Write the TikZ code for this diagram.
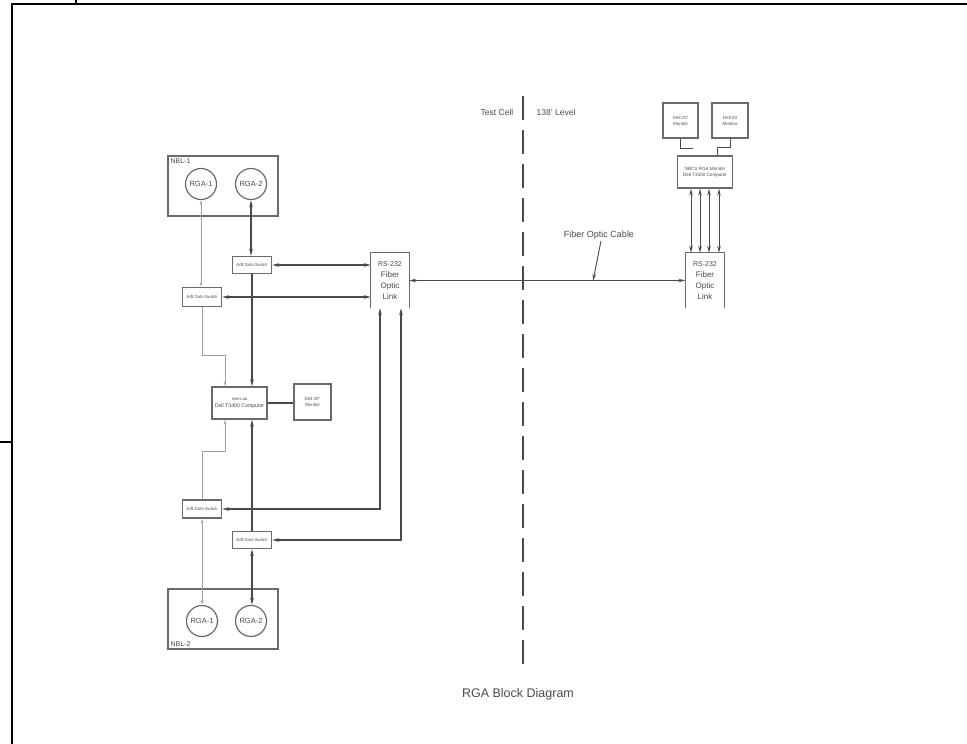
\documentclass[tikz,border=0pt]{standalone}
\usepackage{fontspec}
\setmainfont{Liberation Sans}
\usetikzlibrary{positioning,arrows.meta}
\definecolor{inkgray}{HTML}{4A4A4A}
\definecolor{boxgray}{HTML}{6A6A6A}
\definecolor{lightline}{HTML}{A0A0A0}
\begin{document}
\begin{tikzpicture}[x=1pt, y=-1pt, >={Stealth[length=7pt,width=3.5pt]},
  box/.style={draw=boxgray, line width=1.2pt, rectangle, inner sep=1pt, align=center, text=inkgray},
  openbox/.style={rectangle, inner sep=1pt, align=center, text=inkgray},
  rga/.style={draw=boxgray, line width=1.2pt, circle, minimum size=31pt, inner sep=0pt, text=inkgray, font=\fontsize{7.5}{8}\selectfont},
  swbox/.style={box, minimum width=39pt, minimum height=17pt, font=\fontsize{4.3}{5}\selectfont},
  dk/.style={draw=inkgray, line width=1.3pt},
  lt/.style={draw=lightline, line width=0.7pt, >={Stealth[length=5pt,width=2.5pt]}},
  lbl/.style={text=inkgray, inner sep=1.5pt}]
\useasboundingbox (0,0) rectangle (967,744);

% sheet frame
\draw[line width=1.5pt] (12,744) -- (12,4) -- (967,4);
\draw[line width=1.5pt] (76,0) -- (76,4);
\draw[line width=1.5pt] (0,442) -- (12,442);

% NBL-1
\node[box, minimum width=110pt, minimum height=60pt] (nbl1) at (223,186) {};
\node[lbl, inner sep=3pt, anchor=north west, font=\fontsize{7}{8}\selectfont] (nbl1lbl) at (nbl1.north west) {NBL-1};
\node[rga] (rga1) at (201,184) {RGA-1};
\node[rga] (rga2) at (251,184) {RGA-2};

% NBL-2
\node[box, minimum width=110pt, minimum height=60pt] (nbl2) at (223,619) {};
\node[lbl, inner sep=3pt, anchor=south west, font=\fontsize{7}{8}\selectfont] (nbl2lbl) at (nbl2.south west) {NBL-2};
\node[rga] (rga3) at (202,621) {RGA-1};
\node[rga] (rga4) at (251,621) {RGA-2};

% switches
\node[swbox] (swA) at (252,265) {A/B Data Switch};
\node[swbox, minimum height=19pt] (swB) at (202,297) {A/B Data Switch};
\node[swbox, minimum height=18pt] (swC) at (202,509) {A/B Data Switch};
\node[swbox] (swD) at (252,540) {A/B Data Switch};

% test cell computer and monitor
\node[box, minimum width=55pt, minimum height=32pt, font=\fontsize{5.2}{6.5}\selectfont] (pc) at (239.5,403) {{\fontsize{4}{5}\selectfont Intel Lab}\\Dell T3400 Computer};
\node[box, minimum width=37pt, minimum height=36pt, font=\fontsize{4.5}{6}\selectfont] (mon) at (312.5,402) {Dell 20"\\Monitor};

% fiber optic links (open at the bottom)
\node[openbox, minimum width=38pt, minimum height=55pt, font=\fontsize{8}{11}\selectfont] (fol) at (390,280.5) {{\fontsize{7}{8}\selectfont RS-232}\\Fiber\\Optic\\Link};
\draw[draw=boxgray, line width=1.2pt] (fol.south west) -- (fol.north west) -- (fol.north east) -- (fol.south east);
\node[openbox, minimum width=39pt, minimum height=55pt, font=\fontsize{8}{11}\selectfont] (for) at (705,280.5) {{\fontsize{7}{8}\selectfont RS-232}\\Fiber\\Optic\\Link};
\draw[draw=boxgray, line width=1.2pt] (for.south west) -- (for.north west) -- (for.north east) -- (for.south east);

% 138' level computer and monitors
\node[box, minimum width=55pt, minimum height=32pt, font=\fontsize{4.6}{6}\selectfont] (nbcs) at (705,172) {NBCS RGA Monitor\\Dell T3400 Computer};
\node[box, minimum width=35pt, minimum height=35pt, font=\fontsize{4.5}{6}\selectfont] (monL) at (680.5,120.5) {Dell 20"\\Monitor};
\node[box, minimum width=36pt, minimum height=35pt, font=\fontsize{4.5}{6}\selectfont] (monR) at (730,120.5) {Dell 20\\Monitor};

% boundary
\draw[draw=inkgray, line width=1.2pt, dash pattern=on 24pt off 10pt] (523,96) -- (523,668);
\node[lbl, anchor=east, font=\fontsize{8.5}{9}\selectfont] (tcell) at (515,112) {Test Cell};
\node[lbl, anchor=west, font=\fontsize{8.5}{9}\selectfont] (level) at (535,112) {138' Level};

% NBL-1 side
\draw[dk, <->] (rga2.south) -- (rga2.south |- swA.north);
\draw[lt, <->] (rga1.south) -- (rga1.south |- swB.north);
\draw[dk, <->] (swA.east) -- (swA.east -| fol.west);
\draw[dk, <->] (swB.east) -- (swB.east -| fol.west);
\draw[dk, ->] (swA.south) -- (swA.south |- pc.north);
\draw[lt, ->] (swB.south) -- ++(0,48) -| ([xshift=-14.5pt]pc.north);
\draw[dk] (pc.east) -- (pc.east -| mon.west);

% NBL-2 side
\draw[lt, ->] (swC.north) -- ++(0,-48) -| ([xshift=-14.5pt]pc.south);
\draw[dk, ->] (swD.north) -- (swD.north |- pc.south);
\draw[dk, <->] ([xshift=-10pt]fol.south) |- (swC.east);
\draw[dk, <->] ([xshift=11pt]fol.south) |- (swD.east);
\draw[lt, <->] (swC.south) -- (swC.south |- rga3.north);
\draw[dk, <->] (swD.south) -- (swD.south |- rga4.north);

% fiber run
\draw[dk, <->] (fol.east) -- (for.west);
\node[lbl, font=\fontsize{9}{10}\selectfont] (cable) at (599,235) {Fiber Optic Cable};
\coordinate (tap) at (593,281);
\draw[dk, line width=0.9pt, ->] ([xshift=2pt]cable.south) -- (tap);

% 138' level links
\foreach \dx in {-14,-5,4,14}
  \draw[dk, line width=1pt, <->] ([xshift=\dx pt]nbcs.south) -- ([xshift=\dx pt]for.north);
\draw[dk, line width=1pt] (monR.south) -- ++(0,9) -| ([xshift=12pt]nbcs.north);
\draw[dk, line width=1pt] (monL.south) -- ++(0,10) -- ++(12,0);

% title
\node[lbl, font=\fontsize{12.5}{14}\selectfont] (title) at (518,694) {RGA Block Diagram};
\end{tikzpicture}
\end{document}
